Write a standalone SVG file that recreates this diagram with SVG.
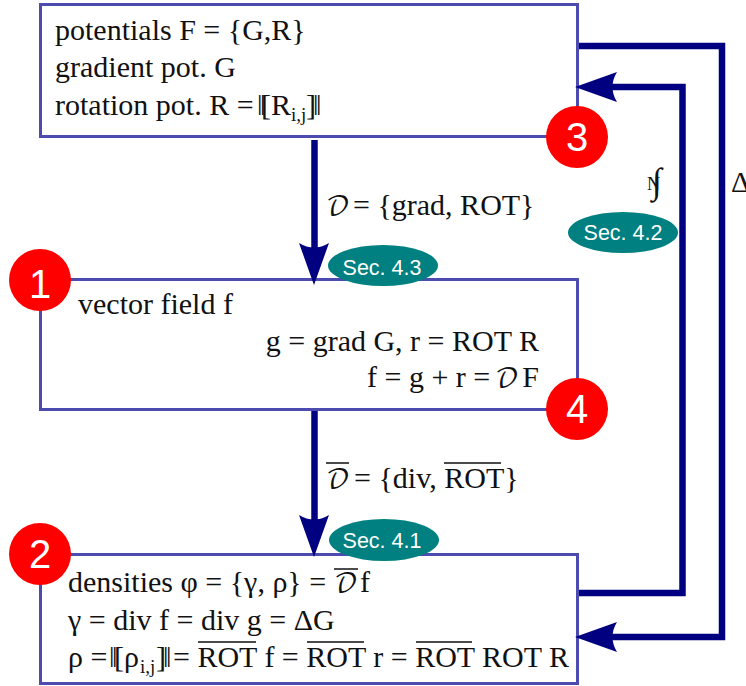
<svg xmlns="http://www.w3.org/2000/svg" width="746" height="686" viewBox="0 0 746 686">
<style>
.box{fill:#fff;stroke:#4c4cb0;stroke-width:3}
.t{font-family:"Liberation Serif","DejaVu Serif",serif;font-size:30px;fill:#111}
.s{font-size:19px}
.d{font-family:"DejaVu Math TeX Gyre","DejaVu Serif","Liberation Serif",serif;font-size:26px;font-style:normal;fill:#111}
.ov{stroke:#111;stroke-width:1.5;fill:none}
.w{stroke:#000080;stroke-width:6.500;fill:none}
.a{fill:#000080}
.sec{fill:#008080}
.st{font-family:"Liberation Sans",Arial,sans-serif;font-size:21.500px;fill:#fff;text-anchor:middle}
.red{fill:#f00}
.n{font-family:"Liberation Sans",Arial,sans-serif;font-size:40px;fill:#fff;text-anchor:middle}
</style>
<defs><path id="head" d="M0 0 L-42 -15 Q-33 0 -42 15 Z" class="a"/></defs>
<g id="node-potentials">
<rect class="box" x="40.500" y="4.500" width="537" height="132"/>
<text class="t" x="55" y="40">potentials F = {G,R}</text>
<text class="t" x="55" y="77">gradient pot. G</text>
<text class="t" x="55" y="115">rotation pot. R =<tspan x="257">‖</tspan><tspan x="261">[R</tspan><tspan class="s" x="291" dy="6">i,j</tspan><tspan x="306" dy="-6">]</tspan><tspan x="313">‖</tspan></text>
</g>
<g id="node-field">
<rect class="box" x="40.500" y="279.500" width="537" height="130"/>
<text class="t" x="78" y="314">vector field f</text>
<text class="t" x="539" y="351" text-anchor="end">g = grad G, r = ROT R</text>
<text class="t" x="367" y="387">f = g + r =</text>
<text class="d" x="495" y="387">𝒟</text>
<text class="t" x="539" y="387" text-anchor="end">F</text>
</g>
<g id="node-densities">
<rect class="box" x="40.500" y="554.500" width="537" height="129"/>
<text class="t" x="68" y="592">densities φ = {γ, ρ} =</text>
<text class="d" x="334" y="592">𝒟</text>
<text class="t" x="360" y="592">f</text>
<path class="ov" d="M334 569H358"/>
<text class="t" x="68" y="630">γ = div f = div g = ΔG</text>
<text class="t" x="68" y="667">ρ =<tspan x="109">‖</tspan><tspan x="114">[ρ</tspan><tspan class="s" x="140" dy="6">i,j</tspan><tspan x="156" dy="-6">]</tspan><tspan x="163">‖</tspan><tspan x="173">= ROT f = ROT r = ROT ROT R</tspan></text>
<path class="ov" d="M198 642H256M307 642H364M416 642H472"/>
</g>
<g id="connectors">
<path class="w" d="M314.500 140V255"/>
<use href="#head" transform="translate(314 285) rotate(90)"/>
<path class="w" d="M314.500 411V530"/>
<use href="#head" transform="translate(314 557) rotate(90)"/>
<path class="w" d="M579 46H722V637H605"/>
<use href="#head" transform="translate(575 637) rotate(180)"/>
<path class="w" d="M579 593H682.500V87H605"/>
<use href="#head" transform="translate(575 87) rotate(180)"/>
</g>
<g id="labels">
<text class="d" x="326" y="215">𝒟</text>
<text class="t" x="353" y="215">= {grad, ROT}</text>
<text class="d" x="326" y="488">𝒟</text>
<path class="ov" d="M326 463H349M444 463H501"/>
<text class="t" x="354" y="488">= {div, ROT}</text>
<text class="t" x="647" y="190" style="font-size:18px">N</text>
<text class="t" x="652" y="193" style="font-size:36px">∫</text>
<text class="t" x="731" y="192">Δ</text>
</g>
<g id="badge-sec43"><ellipse class="sec" cx="383" cy="265.500" rx="55" ry="20.500"/><text class="st" x="382" y="275">Sec. 4.3</text></g>
<g id="badge-sec42"><ellipse class="sec" cx="623" cy="232.500" rx="55" ry="20.500"/><text class="st" x="623" y="240">Sec. 4.2</text></g>
<g id="badge-sec41"><ellipse class="sec" cx="384" cy="540" rx="55" ry="21"/><text class="st" x="382" y="548">Sec. 4.1</text></g>
<g id="badge-1"><circle class="red" cx="40" cy="280" r="31"/><text class="n" x="40" y="298">1</text></g>
<g id="badge-2"><circle class="red" cx="40" cy="554" r="31"/><text class="n" x="40" y="568">2</text></g>
<g id="badge-3"><circle class="red" cx="577" cy="137" r="31"/><text class="n" x="577" y="151">3</text></g>
<g id="badge-4"><circle class="red" cx="577" cy="409" r="31"/><text class="n" x="577" y="423">4</text></g>
</svg>
